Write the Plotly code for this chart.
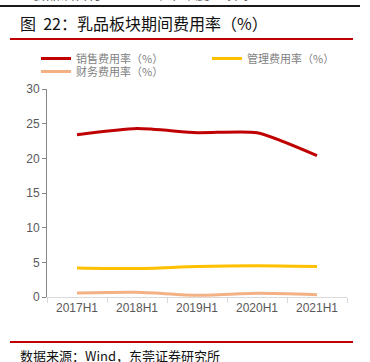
import plotly.graph_objects as go

categories = ["2017H1", "2018H1", "2019H1", "2020H1", "2021H1"]
sales_rate = [23.4, 24.3, 23.7, 23.7, 20.4]
admin_rate = [4.2, 4.1, 4.4, 4.5, 4.4]
finance_rate = [0.58, 0.68, 0.25, 0.53, 0.33]
series_names = ["销售费用率（%）", "管理费用率（%）", "财务费用率（%）"]
y_ticks = [0, 5, 10, 15, 20, 25, 30]

W, H = 370, 362
L, R, T, B = 47, 23, 89, 65
font_cjk = "Noto Sans CJK SC"

fig = go.Figure()
colors = ["#c00000", "#ffc000", "#f4b183"]
legends = ["legend", "legend3", "legend2"]
for name, vals, col, lg in zip(series_names, [sales_rate, admin_rate, finance_rate], colors, legends):
    fig.add_trace(go.Scatter(
        x=categories, y=vals, name=name, mode="lines", legend=lg,
        line=dict(color=col, width=3, shape="spline", smoothing=0.6),
    ))

def px_x(px):
    return (px - L) / (W - L - R)

def px_y(py):
    return (H - B - py) / (H - T - B)

legend_font = dict(size=11, color="#7f7f7f", family=font_cjk)
fig.update_layout(
    width=W, height=H,
    margin=dict(l=L, r=R, t=T, b=B),
    paper_bgcolor="white", plot_bgcolor="white",
    font=dict(family=font_cjk, color="#595959", size=11),
    showlegend=True,
    legend=dict(
        orientation="h", x=px_x(36), y=px_y(58.5), xanchor="left", yanchor="middle",
        font=legend_font, itemwidth=30, bgcolor="rgba(0,0,0,0)",
    ),
    legend3=dict(
        orientation="h", x=px_x(207), y=px_y(58.5), xanchor="left", yanchor="middle",
        font=legend_font, itemwidth=30, bgcolor="rgba(0,0,0,0)",
    ),
    legend2=dict(
        orientation="h", x=px_x(36), y=px_y(71.5), xanchor="left", yanchor="middle",
        font=legend_font, itemwidth=30, bgcolor="rgba(0,0,0,0)",
    ),
    xaxis=dict(
        type="category", tickson="boundaries", ticks="outside", ticklen=5,
        tickcolor="#d9d9d9", showline=True, linecolor="#d9d9d9", linewidth=1,
        showgrid=False, zeroline=False,
        tickfont=dict(family="Liberation Sans, Arial", size=12, color="#595959"),
        range=[-0.5, 4.5],
    ),
    yaxis=dict(
        range=[0, 30], tickvals=y_ticks, ticks="outside", ticklen=4,
        tickcolor="#868686", showline=True, linecolor="#868686", linewidth=1,
        showgrid=False, zeroline=False,
        tickfont=dict(family="Liberation Sans, Arial", size=12, color="#595959"),
    ),
)

shapes = [
    dict(type="line", xref="paper", yref="paper", x0=px_x(0), x1=px_x(360), y0=px_y(6), y1=px_y(6),
         line=dict(color="#1a1a1a", width=2)),
    dict(type="line", xref="paper", yref="paper", x0=px_x(10), x1=px_x(353), y0=px_y(39), y1=px_y(39),
         line=dict(color="#c00000", width=2)),
    dict(type="line", xref="paper", yref="paper", x0=px_x(10), x1=px_x(353), y0=px_y(342), y1=px_y(342),
         line=dict(color="#c00000", width=2)),
]
fig.update_layout(shapes=shapes)

annotations = [
    dict(text="食品饮料行业 2021 年半年度业绩综述", xref="paper", yref="paper",
         x=px_x(30), y=px_y(5), xanchor="left", yanchor="bottom", showarrow=False,
         font=dict(family=font_cjk, size=14, color="#555555")),
    dict(text="图  22：乳品板块期间费用率（%）", xref="paper", yref="paper",
         x=px_x(18), y=px_y(23), xanchor="left", yanchor="middle", showarrow=False,
         font=dict(family=font_cjk, size=16, color="#111111")),
    dict(text="数据来源：Wind，东莞证券研究所", xref="paper", yref="paper",
         x=px_x(18), y=px_y(355), xanchor="left", yanchor="middle", showarrow=False,
         font=dict(family=font_cjk, size=13, color="#111111")),
]
fig.update_layout(annotations=annotations)

fig.write_html("out.html", config={"displayModeBar": False},
               post_script="document.body.style.margin='0';document.body.style.overflow='hidden';")
